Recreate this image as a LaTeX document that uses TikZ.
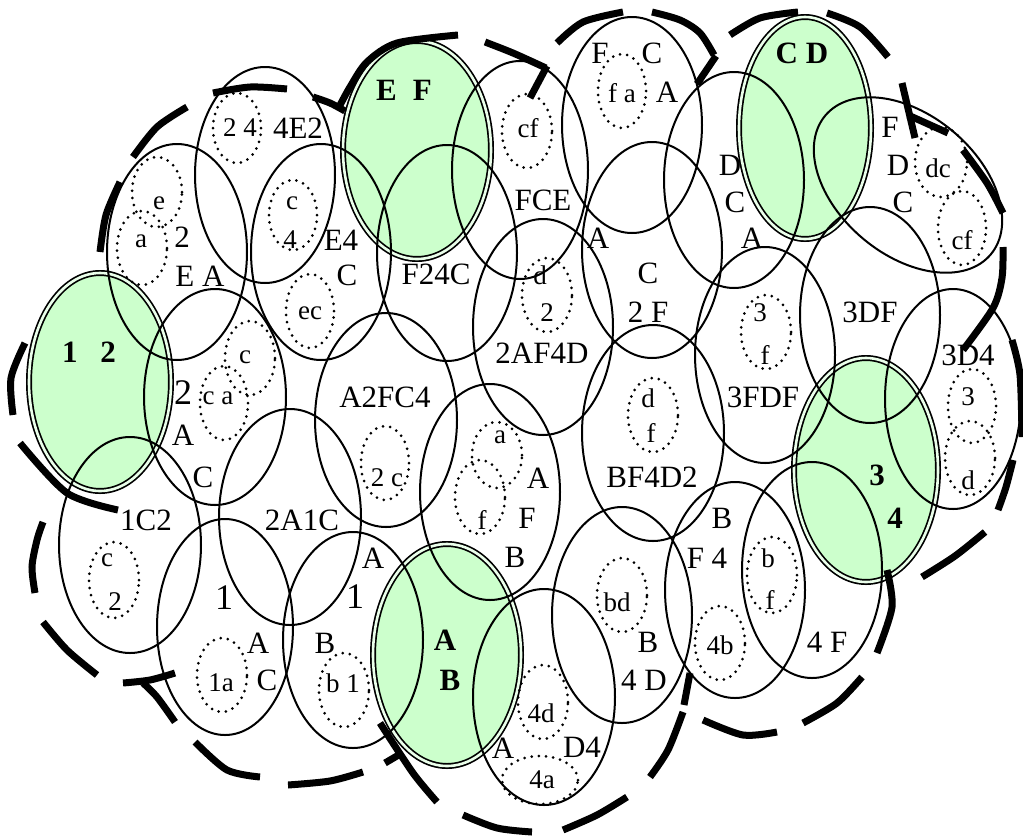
\documentclass[tikz,border=0pt]{standalone}
\usepackage{fontspec}
\setmainfont{Liberation Serif}
\definecolor{gfill}{RGB}{204,255,204}
\begin{document}
\begin{tikzpicture}[x=1pt,y=-1pt,
  el/.style={line width=2pt},
  dots/.style={line width=3pt,dash pattern=on 0pt off 7.2pt,line cap=round},
  grn/.style={fill=gfill,draw=black,double=gfill!40!white,double distance=2.6pt,line width=1.7pt},
  thk/.style={line width=7pt},
  lbl/.style={inner sep=0pt,font=\fontsize{31}{31}\selectfont},
  sml/.style={inner sep=0pt,font=\fontsize{27}{27}\selectfont},
  big/.style={inner sep=0pt,font=\fontsize{36}{36}\selectfont},
  bld/.style={inner sep=0pt,font=\fontsize{31}{31}\selectfont\bfseries}]
\useasboundingbox (0,0) rectangle (1023,839);
% green double ellipses
\foreach \x/\y/\a/\b in {100/382/71/109, 417/150/74/109, 805/128/66/111, 866/470/72/112, 447/655/74/111}
  \draw[grn] (\x,\y) ellipse [x radius=\a pt, y radius=\b pt];
% plain ellipses
\foreach \x/\y/\a/\b in {177/252/70/108, 265/175/70/108, 321/252/70/108, 447/253/70/108,
  520/170/68/109, 632/125/70/108, 734/180/70/108, 652/250/70/108, 543/327/70/108,
  386/420/71/107, 490/492/70/108, 653/433/71/108, 765/355/70/108, 870/315/70/108,
  953/399/68/110, 735/590/70/108, 812/570/70/108, 622/615/70/108, 544/697/71/108,
  290/517/71/108, 225/627/68/108, 353/640/70/108, 130/545/71/108, 215/397/71/108}
  \draw[el] (\x,\y) ellipse [x radius=\a pt, y radius=\b pt];
\draw[el, rotate around={-40:(908,185)}] (908,185) ellipse [x radius=108pt, y radius=70pt];
% dotted ellipses
\foreach \x/\y/\a/\b in {237/128/24/35, 157/192/25/35, 142/248/25/37, 293/215/24/35,
  310/311/24/37, 250/358/25/37, 224/403/24/37, 527/131/25/37, 622/91/24/37,
  941/162/26/35, 962/228/24/37, 547/295/25/37, 385/463/24/37, 497/455/25/33,
  480/497/25/37, 653/415/25/37, 766/332/25/37, 972/406/24/37, 970/458/25/37,
  772/575/25/38, 720/643/25/37, 622/595/25/37, 543/702/25/37, 540/780/38/24,
  114/580/25/38, 222/675/25/37, 344/690/25/37}
  \draw[dots] (\x,\y) ellipse [x radius=\a pt, y radius=\b pt];
% labels
\node[bld] (g1) at (89,352) {1\hspace{23pt}2};
\node[bld] (g2) at (404,90) {E\hspace{16pt}F};
\node[bld] (g3) at (802,53) {C D};
\node[bld] (g4a) at (877,475) {3};
\node[bld] (g4b) at (895,518) {4};
\node[bld] (g5a) at (445,640) {A};
\node[bld] (g5b) at (450,680) {B};
\node[sml] (t1) at (240,128) {2 4};
\node[lbl] (t2) at (298,128) {4E2};
\node[sml] (t3) at (159,203) {e};
\node[sml] (t4) at (141,241) {a};
\node[lbl] (t5) at (182,237) {2};
\node[lbl] (t6) at (200,276) {E A};
\node[sml] (t7) at (292,203) {c};
\node[sml] (t8) at (290,240) {4};
\node[lbl] (t9) at (341,240) {E4};
\node[lbl] (t10) at (347,275) {C};
\node[sml] (t11) at (310,313) {ec};
\node[sml] (t12) at (245,357) {c};
\node[big] (t13) at (183,393) {2};
\node[sml] (t14) at (218,398) {c a};
\node[lbl] (t15) at (183,435) {A};
\node[lbl] (t16) at (203,477) {C};
\node[lbl] (t17) at (146,520) {1C2};
\node[lbl] (t18) at (302,520) {2A1C};
\node[sml] (t19) at (107,560) {c};
\node[sml] (t20) at (115,602) {2};
\node[big] (t21) at (224,598) {1};
\node[lbl] (t22) at (258,643) {A};
\node[sml] (t23) at (221,683) {1a};
\node[lbl] (t24) at (267,680) {C};
\node[lbl] (t25) at (325,643) {B};
\node[sml] (t26) at (343,683) {b 1};
\node[big] (t27) at (355,597) {1};
\node[lbl] (t28) at (373,558) {A};
\node[lbl] (t29) at (515,557) {B};
\node[sml] (t30) at (617,602) {bd};
\node[lbl] (t31) at (648,642) {B};
\node[lbl] (t32) at (644,680) {4 D};
\node[sml] (t33) at (541,713) {4d};
\node[lbl] (t34) at (503,748) {A};
\node[lbl] (t35) at (582,747) {D4};
\node[sml] (t36) at (542,780) {4a};
\node[lbl] (t37) at (385,397) {A2FC4};
\node[sml] (t38) at (387,478) {2 c};
\node[sml] (t39) at (500,437) {a};
\node[lbl] (t40) at (538,478) {A};
\node[sml] (t41) at (482,520) {f};
\node[lbl] (t42) at (527,518) {F};
\node[lbl] (t43) at (542,353) {2AF4D};
\node[sml] (t44) at (540,275) {d};
\node[sml] (t45) at (547,313) {2};
\node[lbl] (t46) at (648,273) {C};
\node[lbl] (t47) at (648,312) {2 F};
\node[sml] (t48) at (648,398) {d};
\node[sml] (t49) at (651,433) {f};
\node[lbl] (t50) at (652,477) {BF4D2};
\node[lbl] (t51) at (436,274) {F24C};
\node[sml] (t52) at (528,128) {cf};
\node[lbl] (t53) at (543,200) {FCE};
\node[lbl] (t54) at (598,238) {A};
\node[lbl] (t55) at (600,53) {F};
\node[lbl] (t56) at (652,53) {C};
\node[sml] (t57) at (622,93) {f a};
\node[lbl] (t58) at (667,92) {A};
\node[lbl] (t59) at (730,165) {D};
\node[lbl] (t60) at (735,202) {C};
\node[lbl] (t61) at (752,238) {A};
\node[lbl] (t62) at (890,127) {F};
\node[lbl] (t63) at (898,165) {D};
\node[lbl] (t64) at (903,202) {C};
\node[sml] (t65) at (938,168) {dc};
\node[sml] (t66) at (962,240) {cf};
\node[lbl] (t67) at (870,312) {3DF};
\node[sml] (t68) at (760,313) {3};
\node[sml] (t69) at (765,355) {f};
\node[lbl] (t70) at (763,397) {3FDF};
\node[lbl] (t71) at (968,355) {3D4};
\node[sml] (t72) at (968,397) {3};
\node[sml] (t73) at (968,480) {d};
\node[lbl] (t74) at (722,518) {B};
\node[lbl] (t75) at (707,558) {F 4};
\node[sml] (t76) at (768,558) {b};
\node[sml] (t77) at (770,600) {f};
\node[sml] (t78) at (720,645) {4b};
\node[lbl] (t79) at (827,642) {4 F};
% thick dashed outline
\draw[thk] plot[smooth] coordinates {(25,343) (11,378) (13,415)};
\draw[thk] plot[smooth] coordinates {(100,252) (106,215) (120,182)};
\draw[thk] plot[smooth] coordinates {(133,157) (157,127) (187,107)};
\draw[thk] plot[smooth] coordinates {(213,93) (250,87) (287,89)};
\draw[thk] plot[smooth] coordinates {(313,97) (330,103) (345,111)};
\draw[thk] plot[smooth] coordinates {(338,109) (350,87) (367,62) (397,43) (458,35)};
\draw[thk] plot[smooth] coordinates {(485,42) (513,53) (546,68)};
\draw[thk] (547,66) -- (530,98);
\draw[thk] plot[smooth] coordinates {(557,43) (583,22) (623,12)};
\draw[thk] plot[smooth] coordinates {(652,12) (680,20) (700,33) (714,55)};
\draw[thk] (716,56) -- (697,84);
\draw[thk] plot[smooth] coordinates {(730,35) (760,18) (798,12)};
\draw[thk] plot[smooth] coordinates {(827,13) (860,27) (888,57)};
\draw[thk] (902,83) -- (915,138);
\draw[thk] (908,115) -- (948,133);
\draw[thk] plot[smooth] coordinates {(963,150) (987,183) (1003,213)};
\draw[thk] plot[smooth] coordinates {(1003,247) (1002,278) (993,308) (963,350)};
\draw[thk] plot[smooth] coordinates {(1012,340) (1020,375) (1022,437)};
\draw[thk] plot[smooth] coordinates {(1013,460) (1006,487) (998,510)};
\draw[thk] plot[smooth] coordinates {(985,532) (955,556) (922,577)};
\draw[thk] plot[smooth] coordinates {(887,570) (892,607) (877,653)};
\draw[thk] plot[smooth] coordinates {(862,677) (837,703) (803,723)};
\draw[thk] plot[smooth] coordinates {(777,732) (743,735) (703,720)};
\draw[thk] plot[smooth] coordinates {(690,673) (684,705)};
\draw[thk] plot[smooth] coordinates {(683,712) (668,750) (650,777)};
\draw[thk] plot[smooth] coordinates {(627,797) (597,815) (563,830)};
\draw[thk] plot[smooth] coordinates {(532,832) (497,828) (463,815)};
\draw[thk] plot[smooth] coordinates {(437,802) (413,773) (380,723)};
\draw[thk] (385,763) -- (402,753);
\draw[thk] plot[smooth] coordinates {(363,772) (330,781) (288,785)};
\draw[thk] plot[smooth] coordinates {(260,777) (227,770) (195,742)};
\draw[thk] plot[smooth] coordinates {(175,722) (157,697) (143,683)};
\draw[thk] plot[smooth] coordinates {(123,683) (150,680) (175,673)};
\draw[thk] plot[smooth] coordinates {(97,675) (67,650) (43,622)};
\draw[thk] plot[smooth] coordinates {(35,593) (32,567) (37,540) (43,522)};
\draw[thk] plot[smooth] coordinates {(20,443) (67,493) (118,510)};
\end{tikzpicture}
\end{document}
